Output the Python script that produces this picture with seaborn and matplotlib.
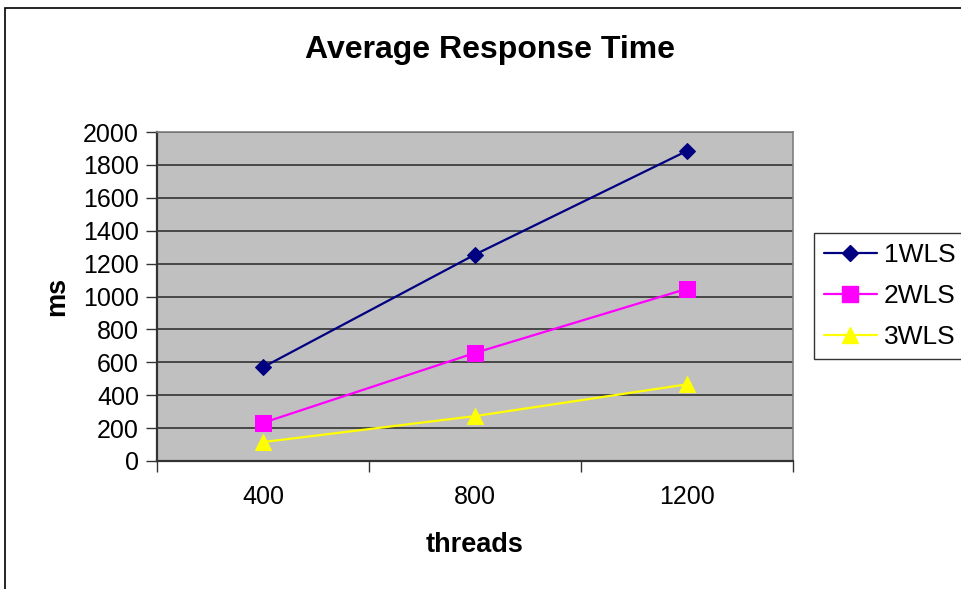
import matplotlib
matplotlib.use("Agg")
import matplotlib.pyplot as plt
import seaborn as sns
import pandas as pd
from matplotlib.patches import Rectangle
from matplotlib.lines import Line2D

threads = ["400", "800", "1200"]
wls1 = [570, 1255, 1885]
wls2 = [232, 657, 1047]
wls3 = [115, 273, 466]
series_names = ["1WLS", "2WLS", "3WLS"]
y_ticks = list(range(0, 2001, 200))

colors = ["#000080", "#FF00FF", "#FFFF00"]
markers = ["D", "s", "^"]
msizes = [8, 11, 11]

sns.set_style("white")
plt.rcParams["font.family"] = ["Liberation Sans", "DejaVu Sans"]
plt.rcParams["text.color"] = "black"
plt.rcParams["axes.labelcolor"] = "black"
plt.rcParams["xtick.labelcolor"] = "black"
plt.rcParams["ytick.labelcolor"] = "black"

W, H = 961, 589
fig = plt.figure(figsize=(W / 100, H / 100), dpi=100)
fig.patch.set_facecolor("white")

# outer chart-area border (cropped on the right and bottom)
fig.add_artist(Rectangle((5 / W, -0.1), 1.2, 1 - 8 / H + 0.1, transform=fig.transFigure,
                         fill=False, edgecolor="black", linewidth=1.2))

ax = fig.add_axes([157 / W, 1 - 461 / H, 636 / W, 329 / H])
ax.set_facecolor("#C0C0C0")

df = pd.DataFrame({
    "threads": threads * 3,
    "pos": list(range(len(threads))) * 3,
    "ms": wls1 + wls2 + wls3,
    "series": [series_names[0]] * 3 + [series_names[1]] * 3 + [series_names[2]] * 3,
})

for name, c, m, s in zip(series_names, colors, markers, msizes):
    sub = df[df["series"] == name]
    sns.lineplot(data=sub, x="pos", y="ms", ax=ax, color=c, marker=m, markersize=s,
                 markeredgecolor=c, linewidth=1.6, legend=False, zorder=3)

ax.set_xlim(-0.5, len(threads) - 0.5)
ax.set_ylim(0, 2000)
ax.set_yticks(y_ticks)
ax.set_yticklabels([str(v) for v in y_ticks], fontsize=18)
ax.yaxis.grid(True, color="#333333", linewidth=1.2)
ax.set_axisbelow(True)

ax.set_xticks([i - 0.5 for i in range(len(threads) + 1)])
ax.set_xticklabels([""] * (len(threads) + 1))
ax.set_xticks(list(range(len(threads))), minor=True)
ax.set_xticklabels(threads, minor=True, fontsize=18)
ax.tick_params(axis="x", which="minor", length=0, pad=17)
ax.tick_params(axis="x", which="major", length=8, width=1, color="#333333", direction="out")
ax.tick_params(axis="y", length=8, width=1, color="#333333", direction="out", pad=5)
ax.tick_params(axis="both", bottom=True, left=True)

for sp in ["left", "bottom"]:
    ax.spines[sp].set_color("#333333")
    ax.spines[sp].set_linewidth(1.6)
for sp in ["top", "right"]:
    ax.spines[sp].set_color("#808080")
    ax.spines[sp].set_linewidth(1.2)

ax.set_xlabel("threads", fontsize=19.5, fontweight="bold", labelpad=17)
ax.set_ylabel("ms", fontsize=19.5, fontweight="bold", labelpad=9)

fig.text(490 / W, 1 - 50 / H, "Average Response Time", ha="center", va="center",
         fontsize=23, fontweight="bold")

handles = [Line2D([0], [0], color=c, marker=m, markersize=s, markeredgecolor=c, linewidth=1.6)
           for c, m, s in zip(colors, markers, msizes)]
leg = fig.legend(handles, series_names, loc="upper left",
                 bbox_to_anchor=(814 / W, 1 - 233 / H), fontsize=19, frameon=True,
                 fancybox=False, edgecolor="black", handlelength=2.0, handletextpad=0.27,
                 borderpad=0.38, labelspacing=0.64, borderaxespad=0)
leg.get_frame().set_linewidth(1.0)

fig.savefig("out.png", dpi=100)
